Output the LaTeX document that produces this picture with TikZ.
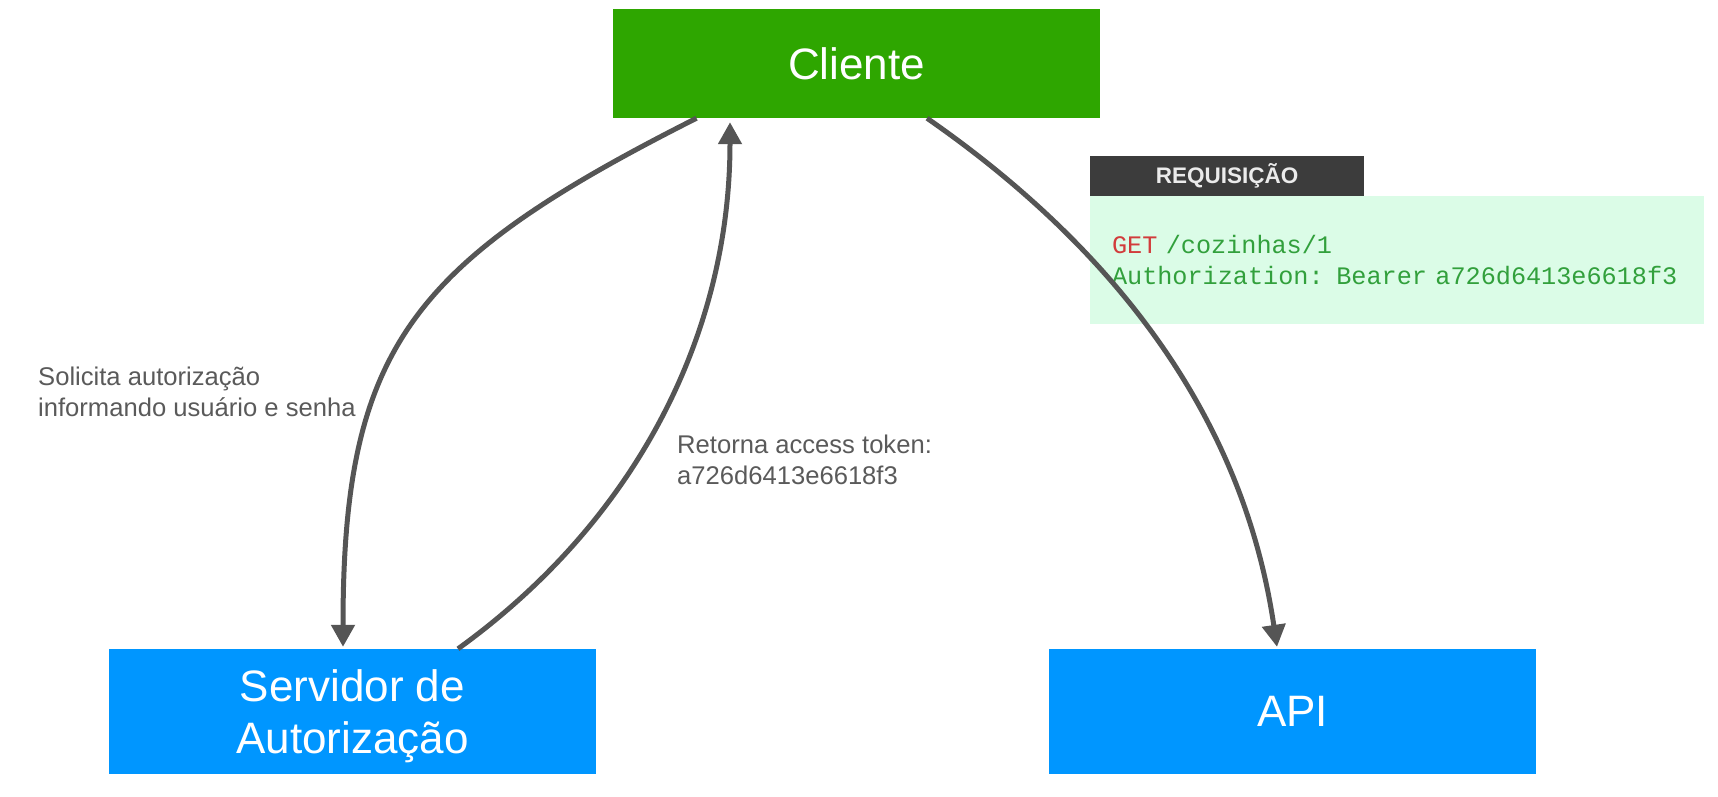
\documentclass[tikz,border=0pt]{standalone}
\usepackage{fontspec}
\setmainfont{Liberation Sans}
\newfontfamily\codefont{Liberation Mono}
\usepackage{xcolor}
\usepackage{tikz}
\usetikzlibrary{arrows.meta,positioning}
\definecolor{cligreen}{RGB}{46,166,0}
\definecolor{srvblue}{RGB}{0,150,255}
\definecolor{arrgray}{RGB}{85,85,85}
\definecolor{labgray}{RGB}{90,90,90}
\definecolor{tabdark}{RGB}{60,60,60}
\definecolor{codebg}{RGB}{219,252,231}
\definecolor{codegreen}{RGB}{50,160,60}
\definecolor{codered}{RGB}{210,60,60}

\begin{document}
\begin{tikzpicture}[
  x=1pt,y=-1pt,
  actor/.style={minimum width=487pt,inner sep=0pt,align=center,text=white,font=\fontsize{44}{51.5}\selectfont},
  tall/.style={minimum height=125pt},
  arr/.style={-{Triangle[length=22pt,width=23pt]},line width=5pt,arrgray},
  lbl/.style={anchor=north west,inner sep=0pt,align=left,text=labgray,font=\fontsize{25.6}{31}\selectfont},
]
\useasboundingbox (0,0) rectangle (1718,796);
% actors
\node[actor,fill=cligreen,minimum height=109pt] (cli) at (856.5,63.5) {Cliente};
\node[actor,tall,fill=srvblue,text depth=0pt] (srv) at (352.5,711.5) {Servidor de\\Autorização};
\node[actor,tall,fill=srvblue] (api) at (1292.5,711.5) {API};

% request sample
\node[fill=tabdark,minimum width=274pt,minimum height=40pt,inner sep=0pt,text=white!92!black,font=\bfseries\fontsize{22.5}{26}\selectfont] (tab) at (1227,176) {REQUISIÇÃO};
\node[fill=codebg,anchor=north west,text width=570pt,inner xsep=22pt,inner ysep=0pt,minimum height=128pt,align=left,font=\codefont\fontsize{25.2}{31}\selectfont,text=codegreen] (req) at (tab.south west) {\textcolor{codered}{GET} /cozinhas/1\\Authorization: Bearer a726d6413e6618f3};

% flows
\draw[arr] ([xshift=-160pt]cli.south) .. controls +(-285,144) and +(0,-300) .. ([xshift=-9.5pt,yshift=2pt]srv.north);
\draw[arr] ([xshift=105.5pt]srv.north) .. controls +(180,-130) and +(0,210) .. ([xshift=-126.5pt,yshift=-4pt]cli.south);
\draw[arr] ([xshift=70.5pt]cli.south) .. controls +(262,182) and +(-22,-148) .. ([xshift=-15.5pt,yshift=2pt]api.north);

\node[lbl] (ask) at (38,367) {Solicita autorização\\informando usuário e senha};
\node[lbl] (ret) at (677,435) {Retorna access token:\\a726d6413e6618f3};
\end{tikzpicture}
\end{document}
